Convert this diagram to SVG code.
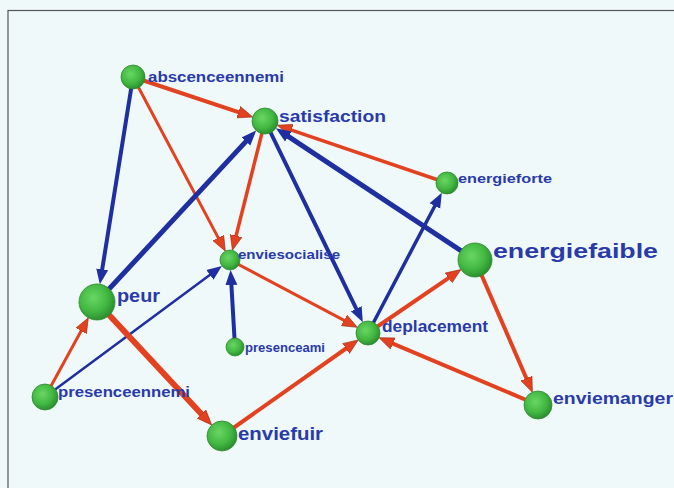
<svg xmlns="http://www.w3.org/2000/svg" width="674" height="488" viewBox="0 0 674 488">
<style>
.lbl{font-family:"Liberation Sans",Arial,sans-serif;font-weight:bold;fill:#2a3aa8;}
.r{stroke:#e2421f;fill:none;stroke-linecap:round;marker-end:url(#ar);}
.b{stroke:#1f2fa0;fill:none;stroke-linecap:round;marker-end:url(#ab);}
.node{fill:url(#g);stroke:#2f8a2f;stroke-width:0.8;}
</style>
<defs>
<radialGradient id="g" cx="0.4" cy="0.38" r="0.65">
<stop offset="0" stop-color="#6ad664"/>
<stop offset="0.6" stop-color="#42b842"/>
<stop offset="1" stop-color="#2a8c2e"/>
</radialGradient>
<marker id="ar" markerUnits="userSpaceOnUse" markerWidth="16" markerHeight="13" refX="7" refY="6.5" orient="auto" viewBox="0 0 16 13">
<path d="M0,0.5 L15,6.5 L0,12.5 z" fill="#e2421f" stroke="#a02a12" stroke-width="0.6"/>
</marker>
<marker id="ab" markerUnits="userSpaceOnUse" markerWidth="16" markerHeight="13" refX="7" refY="6.5" orient="auto" viewBox="0 0 16 13">
<path d="M0,0.5 L15,6.5 L0,12.5 z" fill="#1f2fa0"/>
</marker>
</defs>
<rect width="674" height="488" fill="#eff9f9"/>
<rect x="8" y="10.5" width="700" height="500" fill="none" stroke="#555" stroke-width="1.2"/>
<g id="connectors">
<line class="r" x1="133" y1="77" x2="245.1" y2="114.4" stroke-width="4"/>
<line class="b" x1="133" y1="77" x2="101.1" y2="276.3" stroke-width="4"/>
<line class="r" x1="133" y1="77" x2="221.6" y2="244.1" stroke-width="3"/>
<line class="r" x1="265" y1="121" x2="234.4" y2="242.5" stroke-width="3.5"/>
<line class="b" x1="97" y1="302" x2="250.7" y2="136.4" stroke-width="5"/>
<line class="b" x1="265" y1="121" x2="359.3" y2="315" stroke-width="4"/>
<line class="r" x1="447" y1="183" x2="284.9" y2="127.8" stroke-width="3.5"/>
<line class="b" x1="475" y1="260" x2="282.5" y2="132.6" stroke-width="5"/>
<line class="b" x1="368" y1="333" x2="438.1" y2="199.8" stroke-width="3.5"/>
<line class="r" x1="368" y1="333" x2="454.3" y2="274.1" stroke-width="4"/>
<line class="r" x1="475" y1="260" x2="529.2" y2="384.8" stroke-width="4"/>
<line class="r" x1="538" y1="405" x2="386.4" y2="340.8" stroke-width="4"/>
<line class="r" x1="230" y1="260" x2="350.3" y2="323.6" stroke-width="3"/>
<line class="r" x1="222" y1="436" x2="351.7" y2="344.5" stroke-width="4"/>
<line class="b" x1="235" y1="347" x2="231" y2="278" stroke-width="4"/>
<line class="b" x1="45" y1="397" x2="215.5" y2="270.7" stroke-width="2.5"/>
<line class="r" x1="45" y1="397" x2="84.5" y2="324.8" stroke-width="3"/>
<line class="r" x1="97" y1="302" x2="206.3" y2="419.2" stroke-width="6"/>
</g>
<g id="abscenceennemi"><circle class="node" cx="133" cy="77" r="12"/><text class="lbl" x="148" y="82" font-size="14" textLength="136" lengthAdjust="spacingAndGlyphs">abscenceennemi</text></g>
<g id="satisfaction"><circle class="node" cx="265" cy="121" r="13"/><text class="lbl" x="279" y="122" font-size="17" textLength="107" lengthAdjust="spacingAndGlyphs">satisfaction</text></g>
<g id="energieforte"><circle class="node" cx="447" cy="183" r="11"/><text class="lbl" x="458" y="183" font-size="13" textLength="94" lengthAdjust="spacingAndGlyphs">energieforte</text></g>
<g id="energiefaible"><circle class="node" cx="475" cy="260" r="17"/><text class="lbl" x="493" y="258" font-size="21" textLength="165" lengthAdjust="spacingAndGlyphs">energiefaible</text></g>
<g id="enviesocialise"><circle class="node" cx="230" cy="260" r="10"/><text class="lbl" x="238" y="259" font-size="13" textLength="102" lengthAdjust="spacingAndGlyphs">enviesocialise</text></g>
<g id="peur"><circle class="node" cx="97" cy="302" r="18"/><text class="lbl" x="117" y="302" font-size="19" textLength="43" lengthAdjust="spacingAndGlyphs">peur</text></g>
<g id="presenceennemi"><circle class="node" cx="45" cy="397" r="13"/><text class="lbl" x="58" y="397" font-size="14" textLength="132" lengthAdjust="spacingAndGlyphs">presenceennemi</text></g>
<g id="presenceami"><circle class="node" cx="235" cy="347" r="9"/><text class="lbl" x="245" y="352" font-size="12" textLength="80" lengthAdjust="spacingAndGlyphs">presenceami</text></g>
<g id="enviefuir"><circle class="node" cx="222" cy="436" r="15"/><text class="lbl" x="238" y="440" font-size="18" textLength="85" lengthAdjust="spacingAndGlyphs">enviefuir</text></g>
<g id="deplacement"><circle class="node" cx="368" cy="333" r="12"/><text class="lbl" x="382" y="332" font-size="16" textLength="106" lengthAdjust="spacingAndGlyphs">deplacement</text></g>
<g id="enviemanger"><circle class="node" cx="538" cy="405" r="14"/><text class="lbl" x="553" y="404" font-size="16" textLength="120" lengthAdjust="spacingAndGlyphs">enviemanger</text></g>
</svg>
